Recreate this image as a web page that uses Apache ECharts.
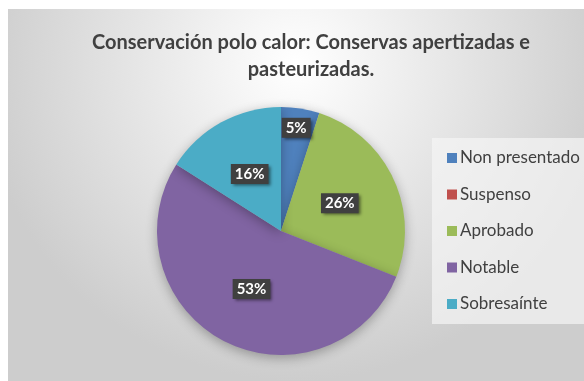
<!DOCTYPE html>
<html><head><meta charset="utf-8">
<script src="https://cdn.jsdelivr.net/npm/echarts@6/dist/echarts.min.js"></script>
<style>
html,body{margin:0;padding:0;background:#fff;width:584px;height:381px;overflow:hidden;}
#c{position:absolute;left:8px;top:9px;width:576px;height:372px;}
</style></head>
<body><div id="c"></div>
<script>
const titleText = 'Conservación polo calor: Conservas apertizadas e\npasteurizadas.';
const categories = ['Non presentado', 'Suspenso', 'Aprobado', 'Notable', 'Sobresaínte'];
const values = [5, 0, 26, 53, 16];
const colors = ['#4F81BD', '#C0504D', '#9BBB59', '#8064A2', '#4BACC6'];

const chart = echarts.init(document.getElementById('c'), null, {renderer: 'canvas'});
const data = categories.map((name, i) => {
  const item = {name: name, value: values[i], itemStyle: {color: colors[i]}};
  if (values[i] === 0) item.label = {show: false};
  if (i === 0) item.label = {offset: [5, -39]};
  return item;
});
chart.setOption({
  backgroundColor: {
    type: 'radial', x: 0.5, y: 0.15, r: 0.85,
    colorStops: [{offset: 0, color: '#ffffff'}, {offset: 1, color: '#cdcdcd'}]
  },
  title: {
    text: titleText,
    left: 303,
    top: 20,
    textAlign: 'center',
    padding: 0,
    textStyle: {fontFamily: 'Lato', fontWeight: 'bold', fontSize: 20, lineHeight: 27, color: '#404040'}
  },
  legend: {
    orient: 'vertical',
    left: 424,
    top: 129,
    data: categories,
    icon: 'rect',
    itemWidth: 10,
    itemHeight: 10,
    itemGap: 18.5,
    padding: [11, 20, 11, 15],
    backgroundColor: 'rgba(245,245,245,0.7)',
    textStyle: {fontFamily: 'Lato', fontSize: 17, lineHeight: 18, color: '#404040', padding: [0, 0, 0, -2]}
  },
  series: [{
    type: 'pie',
    center: [273, 222],
    radius: 124,
    startAngle: 90,
    clockwise: true,
    avoidLabelOverlap: false,
    silent: true,
    data: data,
    itemStyle: {shadowBlur: 12, shadowColor: 'rgba(0,0,0,0.3)', shadowOffsetY: 3},
    label: {
      show: true,
      position: 'inside',
      formatter: '{d}%',
      fontFamily: 'Lato',
      fontWeight: 'bold',
      fontSize: 15,
      color: '#ffffff',
      backgroundColor: '#404040',
      padding: [3, 4, 2, 4],
      shadowColor: 'rgba(0,0,0,0.5)',
      shadowBlur: 3,
      shadowOffsetX: 2,
      shadowOffsetY: 2
    },
    labelLine: {show: false}
  }]
});
</script></body></html>
